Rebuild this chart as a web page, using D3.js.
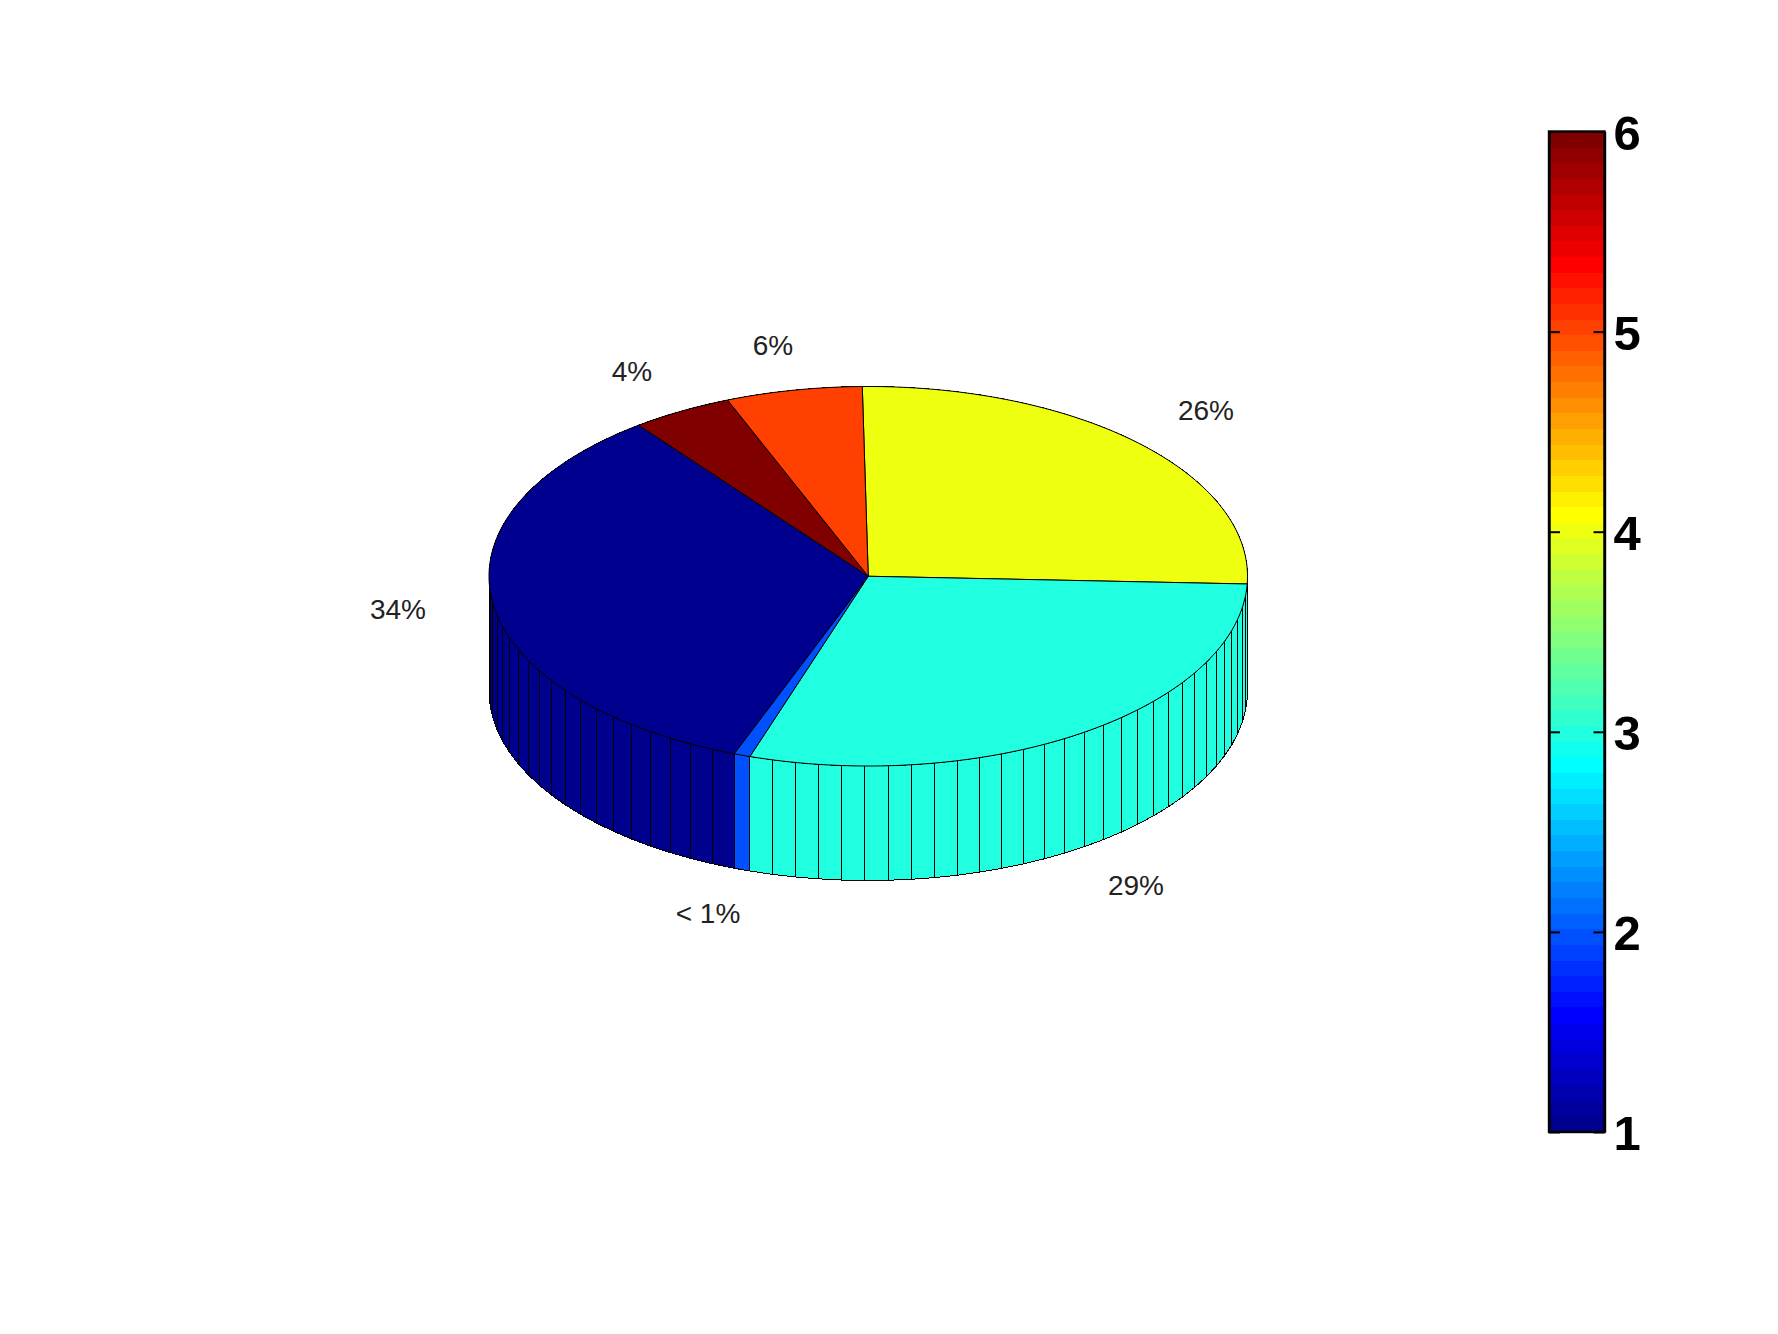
<!DOCTYPE html>
<html>
<head>
<meta charset="utf-8">
<script src="https://cdn.jsdelivr.net/npm/d3@7"></script>
<style>
  html, body { margin: 0; padding: 0; background: #fff; }
  svg { display: block; }
  .pct { font-family: "Liberation Sans", Arial, sans-serif; font-size: 28px; fill: #222; text-anchor: middle; dominant-baseline: central; }
  .cbar-axis text { font-family: "Liberation Sans", Arial, sans-serif; font-size: 49px; font-weight: bold; fill: #000; }
</style>
</head>
<body>
<div id="chart"></div>
<script>
// Slice shares in percent, clockwise from the top of the pie
const sliceLabels = ['26%', '29%', '< 1%', '34%', '4%', '6%'];
const sliceValues = [25.9, 29.4, 0.7, 33.9, 4.3, 5.8];
const sliceColorIndex = [4, 3, 2, 1, 6, 5];
const labelX = [1206, 1136, 708, 398, 632, 773];
const labelY = [410, 885, 913, 609, 371, 345];

// Colorbar
const cbarTicks = [1, 2, 3, 4, 5, 6];
const jetStops = [0, 7, 23, 39, 55, 63];
const jetColors = ['#00008f', '#0000ff', '#00ffff', '#ffff00', '#ff0000', '#800000'];
const jetLevels = 64;

const width = 1778;
const height = 1334;
const startDeg = -0.9;
const depth = 114.5;

const svg = d3.select('#chart')
    .append('svg')
    .attr('width', width)
    .attr('height', height);

const jet = d3.scaleLinear().domain(jetStops).range(jetColors).interpolate(d3.interpolateRgb);
const levelOf = v => Math.min(jetLevels - 1, Math.floor((v - 1) / 5 * jetLevels));

// Unit circle to screen: the tilted pie is an ellipse
const px = d3.scaleLinear().domain([-1, 1]).range([489, 1247.5]);
const py = d3.scaleLinear().domain([-1, 1]).range([766, 386.5]);
const ptX = a => px(Math.sin(a));
const ptY = a => py(Math.cos(a));

const start = startDeg * Math.PI / 180;
const pie = d3.pie()
    .value(d => d.value)
    .sort(null)
    .startAngle(start)
    .endAngle(start + 2 * Math.PI);

const arcs = pie(sliceValues.map((value, i) => ({ value, color: jet(levelOf(sliceColorIndex[i])) })));

// Side facets, one for each started percent of a slice
const facets = [];
arcs.forEach(d => {
    const n = Math.max(1, Math.ceil(d.data.value));
    const step = (d.endAngle - d.startAngle) / n;
    d3.range(n).forEach(i => {
        facets.push({ a0: d.startAngle + i * step, a1: d.startAngle + (i + 1) * step, color: d.data.color });
    });
});
// Back of the cylinder first
facets.sort((p, q) => (Math.cos(q.a0) + Math.cos(q.a1)) - (Math.cos(p.a0) + Math.cos(p.a1)));

svg.append('g').selectAll('path')
    .data(facets)
    .enter()
    .append('path')
    .attr('d', f => `M${ptX(f.a0)},${ptY(f.a0)}L${ptX(f.a1)},${ptY(f.a1)}L${ptX(f.a1)},${ptY(f.a1) + depth}L${ptX(f.a0)},${ptY(f.a0) + depth}Z`)
    .attr('fill', f => f.color)
    .attr('stroke', '#000')
    .attr('stroke-width', 1)
    .attr('shape-rendering', 'crispEdges');

// Top of the pie
const topPath = d => {
    const n = Math.max(2, Math.ceil((d.endAngle - d.startAngle) / 0.01));
    const pts = d3.range(n + 1).map(i => d.startAngle + (d.endAngle - d.startAngle) * i / n);
    return `M${px(0)},${py(0)}` + pts.map(a => `L${ptX(a)},${ptY(a)}`).join('') + 'Z';
};

svg.append('g').selectAll('path')
    .data(arcs)
    .enter()
    .append('path')
    .attr('d', topPath)
    .attr('fill', d => d.data.color)
    .attr('stroke', '#000')
    .attr('stroke-width', 1)
    .attr('stroke-linejoin', 'round');

// Percent labels
svg.append('g').selectAll('text')
    .data(sliceLabels)
    .enter()
    .append('text')
    .attr('class', 'pct')
    .attr('x', (d, i) => labelX[i])
    .attr('y', (d, i) => labelY[i])
    .text(d => d);

// Colorbar
const cbarLeft = 1549;
const cbarRight = 1604.5;
const cy = d3.scaleLinear().domain([1, 6]).range([1132, 131.5]);

svg.append('g').selectAll('rect')
    .data(d3.range(jetLevels))
    .enter()
    .append('rect')
    .attr('x', cbarLeft)
    .attr('width', cbarRight - cbarLeft)
    .attr('y', i => cy(1 + (i + 1) * 5 / jetLevels))
    .attr('height', i => cy(1 + i * 5 / jetLevels) - cy(1 + (i + 1) * 5 / jetLevels) + 0.5)
    .attr('fill', i => jet(i))
    .attr('shape-rendering', 'crispEdges');

const rightAxis = svg.append('g')
    .attr('class', 'cbar-axis')
    .attr('transform', `translate(${cbarRight},0)`)
    .call(d3.axisRight(cy).tickValues(cbarTicks).tickFormat(d3.format('d')).tickSizeInner(-11).tickSizeOuter(0).tickPadding(9));

const leftAxis = svg.append('g')
    .attr('class', 'cbar-axis')
    .attr('transform', `translate(${cbarLeft},0)`)
    .call(d3.axisLeft(cy).tickValues(cbarTicks).tickFormat('').tickSizeInner(-11).tickSizeOuter(0));

[rightAxis, leftAxis].forEach(axis => {
    axis.selectAll('.domain').attr('stroke', '#000').attr('stroke-width', 2.4);
    axis.selectAll('.tick line').attr('stroke', '#000').attr('stroke-width', 2);
});

// Labels sit a little below their ticks in the original
rightAxis.selectAll('.tick text').attr('transform', 'translate(0,2)');

svg.append('rect')
    .attr('x', cbarLeft)
    .attr('y', cy(6))
    .attr('width', cbarRight - cbarLeft)
    .attr('height', cy(1) - cy(6))
    .attr('fill', 'none')
    .attr('stroke', '#000')
    .attr('stroke-width', 2.4);
</script>
</body>
</html>
